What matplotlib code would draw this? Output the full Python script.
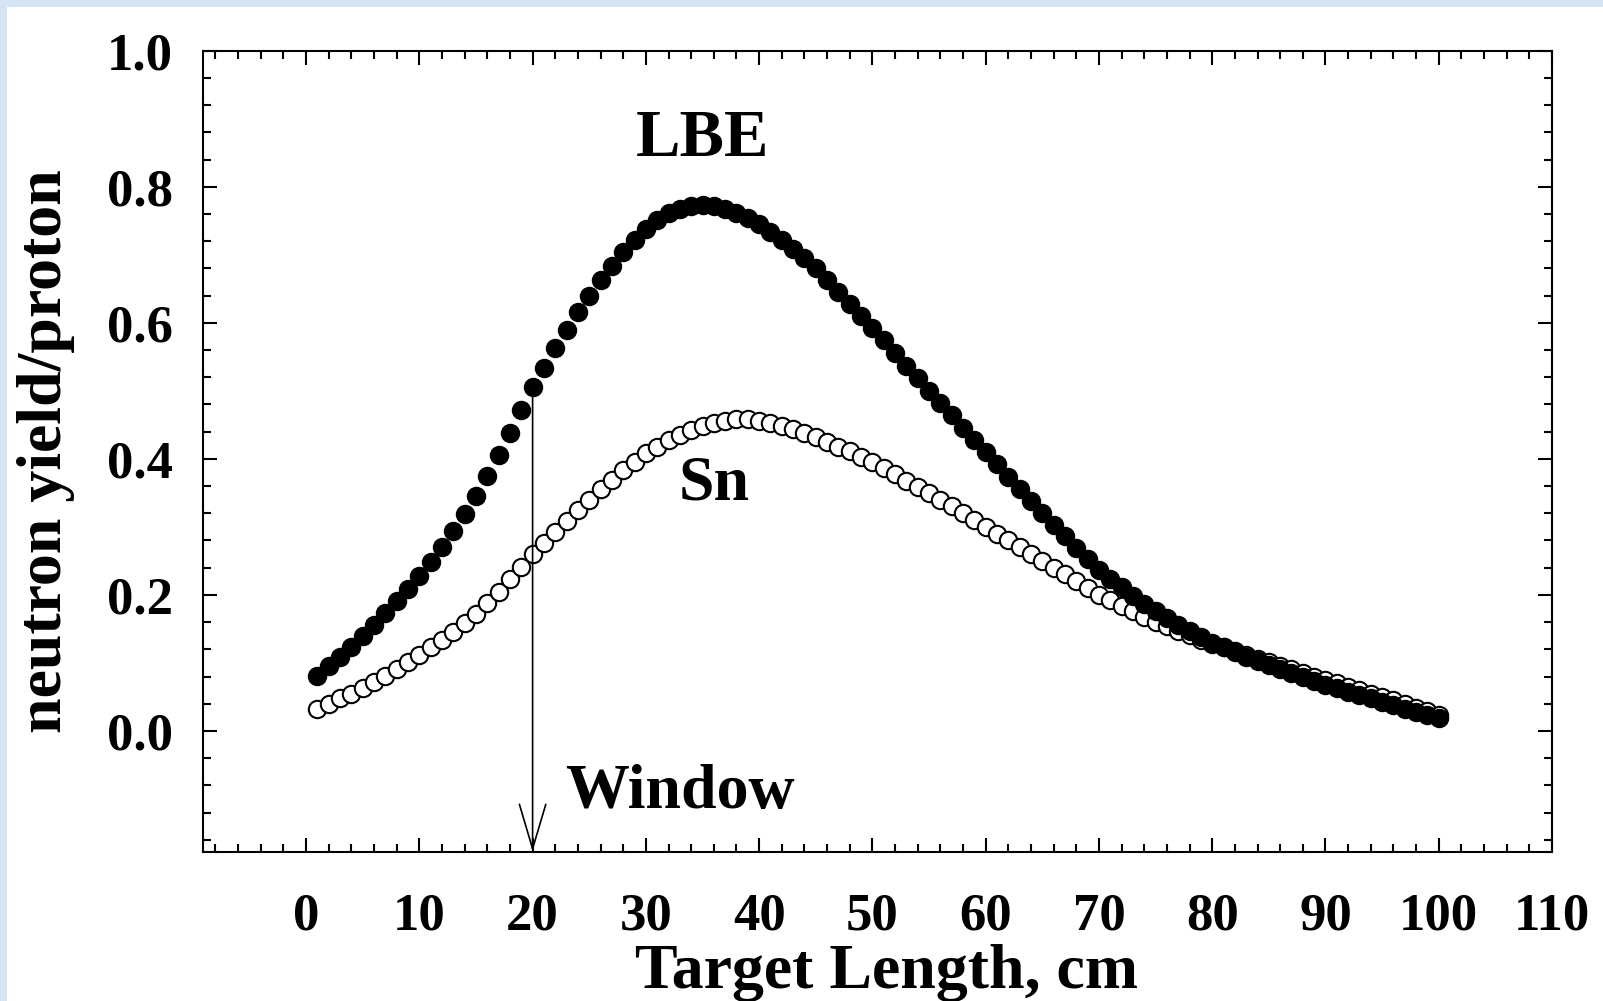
import numpy as np
import matplotlib
matplotlib.use("Agg")
import matplotlib.pyplot as plt
from matplotlib.patches import Rectangle
from matplotlib.ticker import MultipleLocator, FormatStrFormatter

# Target length (cm)
target_length = list(range(1, 101))

# Neutron yield per proton, lead-bismuth eutectic target
lbe_yield = [
    0.081, 0.095, 0.109, 0.124, 0.140, 0.156, 0.173, 0.191, 0.209, 0.228,
    0.249, 0.270, 0.294, 0.319, 0.345, 0.375, 0.406, 0.438, 0.472, 0.505,
    0.534, 0.563, 0.590, 0.616, 0.640, 0.663, 0.684, 0.704, 0.722, 0.738,
    0.751, 0.761, 0.768, 0.772, 0.773, 0.771, 0.767, 0.761, 0.754, 0.745,
    0.734, 0.722, 0.709, 0.695, 0.680, 0.663, 0.646, 0.628, 0.610, 0.592,
    0.574, 0.555, 0.537, 0.519, 0.500, 0.482, 0.464, 0.446, 0.428, 0.410,
    0.392, 0.374, 0.356, 0.338, 0.320, 0.303, 0.286, 0.269, 0.253, 0.237,
    0.224, 0.211, 0.198, 0.187, 0.176, 0.166, 0.156, 0.147, 0.138, 0.130,
    0.123, 0.116, 0.109, 0.103, 0.097, 0.091, 0.085, 0.079, 0.073, 0.068,
    0.063, 0.058, 0.053, 0.048, 0.043, 0.038, 0.033, 0.028, 0.024, 0.019,
]

# Neutron yield per proton, tin target
sn_yield = [
    0.033, 0.040, 0.048, 0.055, 0.063, 0.072, 0.081, 0.091, 0.101, 0.112,
    0.123, 0.134, 0.146, 0.159, 0.172, 0.188, 0.205, 0.223, 0.241, 0.260,
    0.277, 0.293, 0.309, 0.325, 0.340, 0.355, 0.369, 0.383, 0.396, 0.408,
    0.418, 0.427, 0.435, 0.442, 0.448, 0.453, 0.456, 0.458, 0.458, 0.456,
    0.453, 0.449, 0.444, 0.438, 0.432, 0.425, 0.418, 0.411, 0.403, 0.395,
    0.386, 0.377, 0.368, 0.359, 0.350, 0.340, 0.330, 0.320, 0.310, 0.300,
    0.290, 0.280, 0.270, 0.260, 0.250, 0.240, 0.230, 0.220, 0.210, 0.200,
    0.192, 0.184, 0.176, 0.168, 0.160, 0.154, 0.147, 0.141, 0.134, 0.128,
    0.123, 0.117, 0.112, 0.106, 0.101, 0.096, 0.091, 0.085, 0.080, 0.075,
    0.070, 0.065, 0.060, 0.055, 0.050, 0.045, 0.040, 0.034, 0.029, 0.024,
]

window_position = 20
window_top = 0.50

plt.rcParams["font.family"] = ["Liberation Serif", "DejaVu Serif"]
plt.rcParams["font.weight"] = "bold"

fig = plt.figure(figsize=(16.03, 10.01), dpi=100)
fig.patch.set_facecolor("white")

# light blue page border strips (left and top)
fig.patches.append(Rectangle((0, 0), 7 / 1603, 1, transform=fig.transFigure,
                             facecolor="#d5e4f4", edgecolor="none", zorder=0))
fig.patches.append(Rectangle((0, 1 - 7 / 1001), 1, 7 / 1001, transform=fig.transFigure,
                             facecolor="#d5e4f4", edgecolor="none", zorder=0))

ax = fig.add_axes([203 / 1603, 1 - 851.7 / 1001, (1552 - 203) / 1603, (851.7 - 50.7) / 1001])

ax.plot(target_length, sn_yield, linestyle="none", marker="o", markersize=12.5,
        markerfacecolor="white", markeredgecolor="black", markeredgewidth=1.5, zorder=3)
ax.plot(target_length, lbe_yield, linestyle="none", marker="o", markersize=12.5,
        markerfacecolor="black", markeredgecolor="black", markeredgewidth=1.5, zorder=4)

ax.set_xlim(-9.1, 110)
ax.set_ylim(-0.1775, 1.0)

ax.xaxis.set_major_locator(MultipleLocator(10))
ax.xaxis.set_minor_locator(MultipleLocator(2))
ax.yaxis.set_major_locator(MultipleLocator(0.2))
ax.yaxis.set_minor_locator(MultipleLocator(0.04))
ax.yaxis.set_major_formatter(FormatStrFormatter("%.1f"))

ax.tick_params(which="both", direction="in", top=True, right=True, width=1.5)
ax.tick_params(which="major", length=10)
ax.tick_params(which="minor", length=5.5)
ax.tick_params(axis="x", which="major", pad=29.5, labelsize=38)
ax.tick_params(axis="y", which="major", pad=21.5, labelsize=38)
for lbl in ax.get_xticklabels() + ax.get_yticklabels():
    lbl.set_fontweight("bold")

for sp in ax.spines.values():
    sp.set_linewidth(1.5)

ax.set_xlabel("Target Length, cm", fontsize=46, fontweight="bold")
ax.xaxis.label.set_va("baseline")
ax.xaxis.set_label_coords(0.507, -0.1703)
ax.set_ylabel("neutron yield/proton", fontsize=46, fontweight="bold")
ax.yaxis.label.set_va("center")
ax.yaxis.set_label_coords(-0.1164, 0.5)

ax.text(35.0, 0.869, "LBE", fontsize=48, fontweight="bold", ha="center", va="center")
ax.text(36.0, 0.362, "Sn", fontsize=46, fontweight="bold", ha="center", va="center")
ax.text(33.0, -0.091, "Window", fontsize=46, fontweight="bold", ha="center", va="center")

ax.annotate("", xy=(window_position, ax.get_ylim()[0]), xytext=(window_position, window_top),
            arrowprops=dict(arrowstyle="->,head_length=32,head_width=9.5", mutation_scale=1,
                            color="black", lw=1.2, shrinkA=0, shrinkB=0), zorder=5)

fig.savefig("out.png", dpi=100, facecolor=fig.get_facecolor())
